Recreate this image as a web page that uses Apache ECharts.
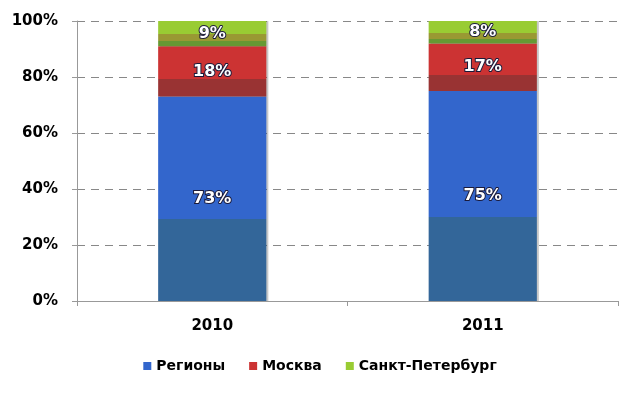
<!DOCTYPE html>
<html>
<head>
<meta charset="utf-8">
<script src="https://cdn.jsdelivr.net/npm/echarts@6/dist/echarts.min.js"></script>
<style>html,body{margin:0;padding:0;background:#fff}#c{width:640px;height:393px}</style>
</head>
<body>
<div id="c"></div>
<script>
var categories = ['2010', '2011'];
var seriesNames = ['Регионы', 'Москва', 'Санкт-Петербург'];
var regions = [73, 75];
var moscow = [18, 17];
var spb = [9, 8];
var yTicks = [0, 20, 40, 60, 80, 100];

function grad(stops) {
  var cs = [];
  stops.forEach(function (s) { cs.push({offset: s[0], color: s[2]}); cs.push({offset: s[1], color: s[2]}); });
  return {type: 'linear', x: 0, y: 1, x2: 0, y2: 0, colorStops: cs};
}
var styles = [
  grad([[0, 0.4, '#336699'], [0.4, 1, '#3366cc']]),
  grad([[0, 0.34, '#993333'], [0.34, 1, '#cc3333']]),
  grad([[0, 0.2, '#669933'], [0.2, 0.48, '#999933'], [0.48, 1, '#99cc33']])
];
var legendColors = ['#3366cc', '#cc3333', '#99cc33'];
var values = [regions, moscow, spb];

var chart = echarts.init(document.getElementById('c'));
var font = 'DejaVu Sans';
chart.setOption({
  animation: false,
  grid: {left: 77, right: 22, top: 21, bottom: 92},
  legend: {
    bottom: 15, left: 'center', itemWidth: 8, itemHeight: 8, itemGap: 24,
    icon: 'rect',
    textStyle: {fontFamily: font, fontWeight: 'bold', fontSize: 14, color: '#000'},
    data: seriesNames.map(function (n, i) { return {name: n, itemStyle: {color: legendColors[i]}}; })
  },
  xAxis: {
    type: 'category', data: categories,
    axisLine: {lineStyle: {color: '#999', width: 1}},
    axisTick: {show: true, length: 5, lineStyle: {color: '#999'}},
    axisLabel: {margin: 18, fontFamily: font, fontWeight: 'bold', fontSize: 15, color: '#000'}
  },
  yAxis: {
    type: 'value', min: yTicks[0], max: yTicks[yTicks.length - 1], interval: 20,
    axisLine: {show: true, lineStyle: {color: '#999'}},
    axisTick: {show: true, length: 5, lineStyle: {color: '#999'}},
    axisLabel: {margin: 19, fontFamily: font, fontWeight: 'bold', fontSize: 15, color: '#000', formatter: '{value}%'},
    splitLine: {lineStyle: {color: '#888', type: [8, 6], width: 1}}
  },
  series: seriesNames.map(function (n, i) {
    return {
      name: n, type: 'bar', stack: 'total', barWidth: '40%',
      data: values[i],
      itemStyle: {color: styles[i], shadowColor: 'rgba(0,0,0,0.22)', shadowBlur: 0, shadowOffsetX: 2, shadowOffsetY: 0},
      label: {
        show: true, position: 'inside', formatter: '{c}%',
        fontFamily: font, fontWeight: 'bold', fontSize: 16, color: '#fff',
        textBorderColor: '#1a1a3a', textBorderWidth: 2
      }
    };
  })
});
</script>
</body>
</html>
